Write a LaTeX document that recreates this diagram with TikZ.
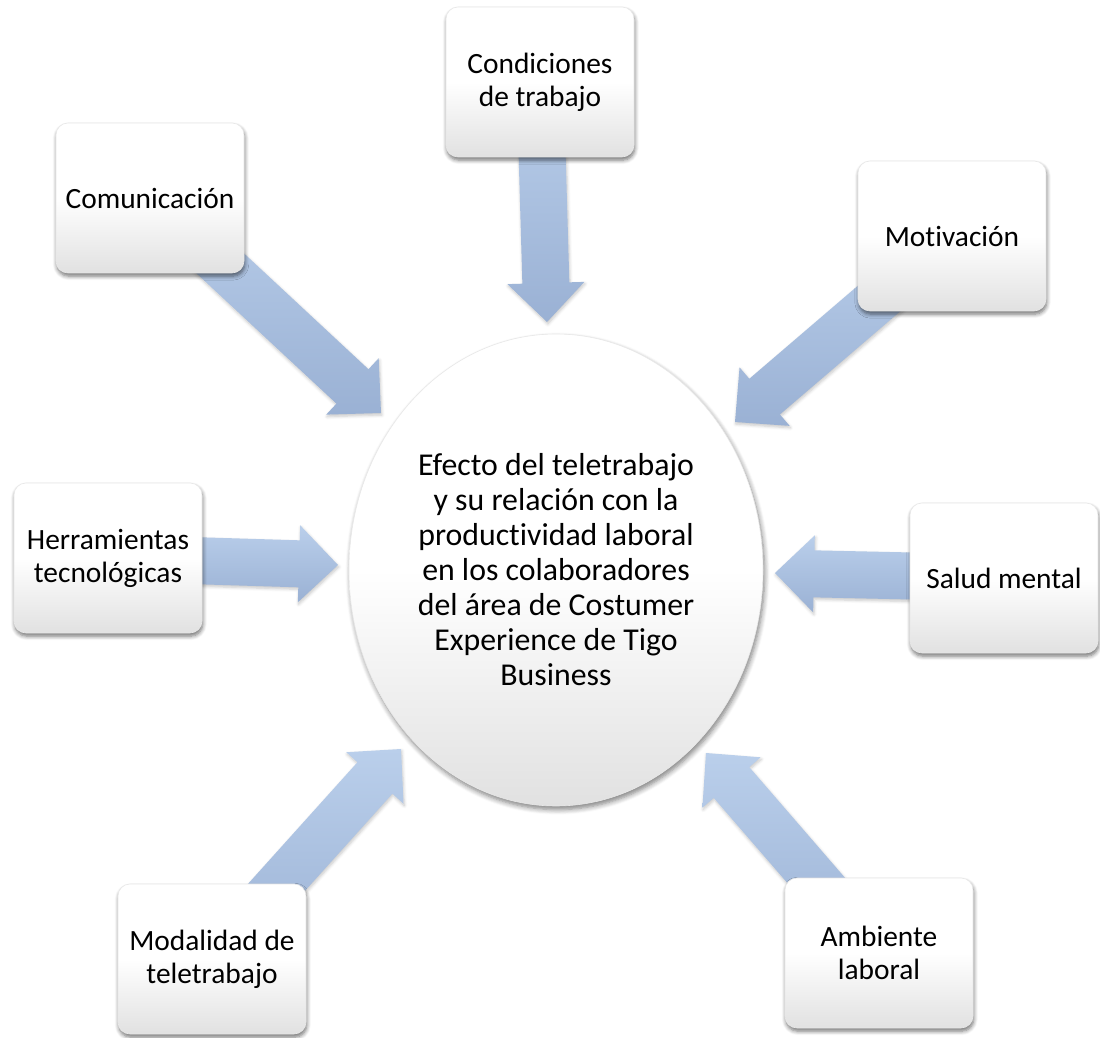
\documentclass[tikz,border=0pt]{standalone}
\usepackage{fontspec}
\setmainfont[Ligatures=NoCommon]{Carlito}
\usetikzlibrary{calc,shapes.geometric,shadows.blur}
\definecolor{arrL}{RGB}{186,207,235}
\definecolor{arrD}{RGB}{154,177,212}
\definecolor{boxB}{RGB}{225,225,225}
\pgfdeclarelayer{bg}
\pgfsetlayers{bg,main}
\tikzset{
  lbl/.style={text=black, align=center},
  box/.style={lbl, font=\fontsize{14.7}{16.5}\selectfont, rectangle, rounded corners=6pt,
    minimum width=94pt, minimum height=75pt,
    inner sep=2pt, top color=white, bottom color=boxB, middle color=white,
    draw=black!9, line width=0.3pt,
    blur shadow={shadow xshift=0.4pt, shadow yshift=-1.6pt, shadow blur radius=2pt,
      shadow blur steps=6, shadow opacity=55}},
  hub/.style={lbl, font=\fontsize{15.9}{17.5}\selectfont, ellipse,
    minimum width=207pt, minimum height=236pt, inner sep=0pt,
    top color=white, bottom color=boxB, middle color=white,
    draw=black!9, line width=0.3pt,
    blur shadow={shadow xshift=0.8pt, shadow yshift=-1.8pt, shadow blur radius=2.5pt,
      shadow blur steps=6, shadow opacity=50}},
  blockarrow/.style={top color=arrL, bottom color=arrD, draw=none,
    blur shadow={shadow xshift=0.4pt, shadow yshift=-1pt, shadow blur radius=1.5pt,
      shadow blur steps=5, shadow opacity=22}}
}
% #1 start node, #2 tip coordinate
\newcommand\blockarr[2]{%
  \coordinate (#2h) at ($(#2)!19.5pt!(#1)$);
  \path[blockarrow] ($(#1)!11.75pt!90:(#2)$) -- ($(#2h)!11.75pt!90:(#2)$)
    -- ($(#2h)!19.25pt!90:(#2)$) -- (#2) -- ($(#2h)!19.25pt!-90:(#2)$)
    -- ($(#2h)!11.75pt!-90:(#2)$) -- ($(#1)!11.75pt!-90:(#2)$) -- cycle;
}
\begin{document}
\begin{tikzpicture}[x=0.5pt,y=-0.5pt]
\useasboundingbox (0,0) rectangle (1100,1038);

\node[hub] (hub) at (556,570) {Efecto del teletrabajo\\y su relación con la\\productividad laboral\\en los colaboradores\\del área de Costumer\\Experience de Tigo\\Business};

\node[box] (comm) at (150,198) {Comunicación};
\node[box] (cond) at (540,82) {Condiciones\\de trabajo};
\node[box] (moti) at (952,236) {Motivación};
\node[box] (herr) at (108,558) {Herramientas\\tecnológicas};
\node[box] (salu) at (1004,578) {Salud mental};
\node[box] (moda) at (212,959) {Modalidad de\\teletrabajo};
\node[box] (ambi) at (879,953) {Ambiente\\laboral};

\coordinate (tcomm) at (381,413);
\coordinate (tcond) at (547,322);
\coordinate (tmoti) at (735,422);
\coordinate (therr) at (338,565);
\coordinate (tsalu) at (775,573);
\coordinate (tmoda) at (401,749);
\coordinate (tambi) at (706,753);

\begin{pgfonlayer}{bg}
\blockarr{comm.center}{tcomm}
\blockarr{cond.center}{tcond}
\blockarr{moti.center}{tmoti}
\blockarr{herr.center}{therr}
\blockarr{salu.center}{tsalu}
\blockarr{moda.center}{tmoda}
\blockarr{ambi.center}{tambi}
\end{pgfonlayer}
\end{tikzpicture}
\end{document}
